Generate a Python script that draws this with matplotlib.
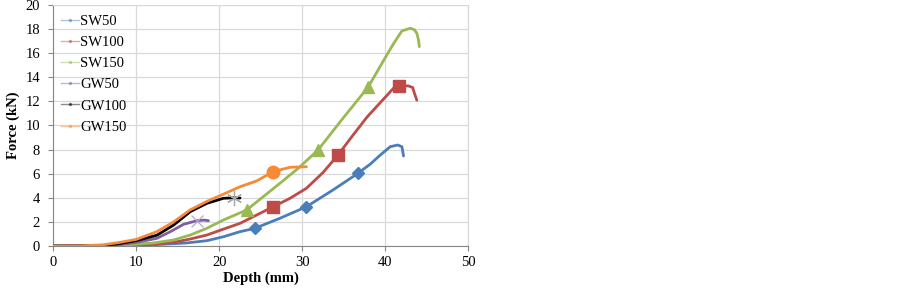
import matplotlib.pyplot as plt
from matplotlib.lines import Line2D

plt.rcParams['font.family'] = ['Liberation Serif', 'DejaVu Serif']

# curve data (depth mm, force kN)
sw50_x = [0, 4, 8, 12, 16, 18.5, 20.5, 22.5, 24.3, 27.3, 30.5, 33.7, 36.7, 38.2, 39.4, 40.6, 41.5, 42.0, 42.2]
sw50_y = [0, 0, 0.02, 0.1, 0.25, 0.44, 0.77, 1.19, 1.47, 2.3, 3.26, 4.65, 6.03, 6.8, 7.55, 8.24, 8.38, 8.24, 7.47]

sw100_x = [0, 4, 8, 12, 14.5, 16.5, 18.5, 20.5, 22.5, 26.5, 28.5, 30.5, 32.5, 34.3, 36.0, 37.8, 39.8, 41.0, 41.6, 42.8, 43.3, 43.5, 43.8]
sw100_y = [0, 0, 0.03, 0.15, 0.3, 0.58, 0.91, 1.4, 1.88, 3.26, 3.95, 4.79, 6.1, 7.55, 9.1, 10.7, 12.2, 13.1, 13.3, 13.28, 13.15, 12.7, 12.1]

sw150_x = [0, 4, 8, 12, 14.5, 16.5, 18.5, 20.5, 22.5, 23.3, 27.3, 29.6, 31.9, 34.9, 37.95, 39.8, 41.0, 42.0, 43.0, 43.5, 43.8, 44.0, 44.1]
sw150_y = [0, 0, 0.05, 0.25, 0.5, 0.91, 1.47, 2.16, 2.75, 2.99, 5.2, 6.5, 7.97, 10.6, 13.2, 15.4, 16.8, 17.84, 18.07, 17.95, 17.65, 17.1, 16.54]

gw50_x = [0, 4, 7, 10, 12.5, 14.1, 15.7, 17.3, 18.2, 18.7]
gw50_y = [0, 0, 0.05, 0.3, 0.64, 1.19, 1.8, 2.1, 2.15, 2.1]

gw100_x = [0, 3, 6, 8, 10, 12.5, 14.5, 16.5, 18.5, 20.5, 21.7, 22.5]
gw100_y = [0, 0, 0.05, 0.2, 0.45, 0.9, 1.74, 2.85, 3.54, 3.96, 4.0, 3.98]

gw150_x = [0, 3, 6, 8, 10, 12.5, 14.5, 16.5, 18.5, 20.5, 22.5, 24.5, 26.5, 28.5, 30.5]
gw150_y = [0, 0, 0.1, 0.3, 0.55, 1.2, 2.0, 3.0, 3.7, 4.3, 4.92, 5.4, 6.17, 6.53, 6.58]

# marker points
sw50_mx, sw50_my = [24.3, 30.5, 36.7], [1.47, 3.26, 6.03]
sw100_mx, sw100_my = [26.5, 34.3, 41.7], [3.26, 7.55, 13.3]
sw150_mx, sw150_my = [23.3, 31.9, 37.95], [2.99, 7.97, 13.2]
gw50_mx, gw50_my = [17.3], [2.1]
gw100_mx, gw100_my = [21.8], [4.0]
gw150_mx, gw150_my = [26.5], [6.17]

labels = ['SW50', 'SW100', 'SW150', 'GW50', 'GW100', 'GW150']
colors = ['#4A7EBB', '#BE4B48', '#98B954', '#7D60A0', '#000000', '#F68A37']

fig = plt.figure(figsize=(9.03, 2.92), dpi=100)
ax = fig.add_axes([0.059, 0.1575, 0.4596, 0.8255])

series = [
    (sw50_x, sw50_y, sw50_mx, sw50_my, 'D', 6),
    (sw100_x, sw100_y, sw100_mx, sw100_my, 's', 9),
    (sw150_x, sw150_y, sw150_mx, sw150_my, '^', 9),
    (gw50_x, gw50_y, gw50_mx, gw50_my, 'x', 9),
    (gw100_x, gw100_y, gw100_mx, gw100_my, (6, 2, 0), 11),
    (gw150_x, gw150_y, gw150_mx, gw150_my, 'o', 9),
]
for (x, y, mx, my, m, ms), c in zip(series, colors):
    ax.plot(x, y, color=c, lw=2, solid_capstyle='round', solid_joinstyle='round', zorder=3)
    if m == 'x' or isinstance(m, tuple):
        mc = '#b4a7cc' if m == 'x' else '#a6a6a6'
        ax.plot(mx, my, ls='none', marker=m, ms=ms, mec=mc, mew=0.9, zorder=4)
    else:
        ax.plot(mx, my, ls='none', marker=m, ms=ms, color=c, mec=c, zorder=4)

ax.set_xlim(0, 50)
ax.set_ylim(0, 20)
ax.set_xticks(range(0, 51, 10))
ax.set_yticks(range(0, 21, 2))
ax.grid(True, color='#d9d9d9', lw=0.9)
ax.set_axisbelow(True)
for s in ['top', 'right']:
    ax.spines[s].set_color('#d9d9d9')
for s in ['left', 'bottom']:
    ax.spines[s].set_color('#868686')
ax.tick_params(labelsize=10.5, color='#868686', length=3.6, width=0.8)
ax.tick_params(axis='y', pad=6)
ax.set_xlabel('Depth (mm)', fontsize=10.5, fontweight='bold', labelpad=2)
ax.set_ylabel('Force (kN)', fontsize=10.5, fontweight='bold', labelpad=4)

handles = [Line2D([], [], color=c, lw=1, alpha=0.45, marker='.', ms=3) for c in colors]
ax.legend(handles, labels, loc='upper left', bbox_to_anchor=(0.005, 0.985), frameon=False,
          fontsize=10.5, handlelength=1.2, handletextpad=0.1, labelspacing=0.55, borderaxespad=0)

fig.savefig('out.png', dpi=100)
